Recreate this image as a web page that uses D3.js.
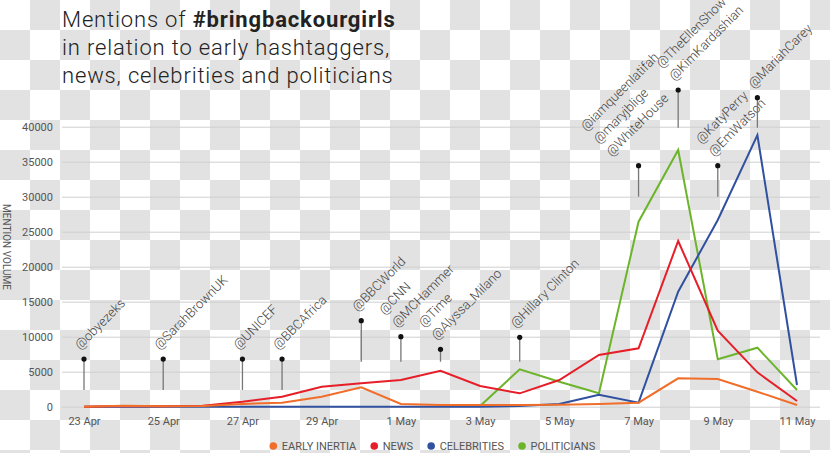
<!DOCTYPE html>
<html><head><meta charset="utf-8">
<script src="https://cdn.jsdelivr.net/npm/d3@7"></script>
<style>
html,body{margin:0;padding:0;background:#fff;}
svg{display:block;font-family:Roboto,"Noto Sans",sans-serif;}
</style></head><body>
<svg id="chart" width="830" height="453"></svg>
<script>
// ---------------- DATA ----------------
const dates = ["2014-04-23","2014-04-24","2014-04-25","2014-04-26","2014-04-27","2014-04-28","2014-04-29","2014-04-30",
  "2014-05-01","2014-05-02","2014-05-03","2014-05-04","2014-05-05","2014-05-06","2014-05-07","2014-05-08",
  "2014-05-09","2014-05-10","2014-05-11"];
const seriesNames = ["EARLY INERTIA","NEWS","CELEBRITIES","POLITICIANS"];
const earlyInertia = [0,150,50,100,390,570,1430,2770,390,250,250,250,290,390,570,4060,3960,2140,240];
const news         = [0,100,50,150,700,1430,2860,3340,3810,5140,2960,1910,3810,7390,8340,23670,10860,4910,810];
const celebrities  = [0,0,0,0,0,0,0,0,0,0,0,100,390,1720,570,16430,26670,38810,3100];
const politicians  = [null,null,null,null,null,null,null,null,null,null,100,5340,3570,1910,26430,36670,6770,8430,2390];
const xTickDates = ["2014-04-23","2014-04-25","2014-04-27","2014-04-29","2014-05-01","2014-05-03","2014-05-05","2014-05-07","2014-05-09","2014-05-11"];
const xTickLabels = ["23 Apr","25 Apr","27 Apr","29 Apr","1 May","3 May","5 May","7 May","9 May","11 May"];
const yTicks = [0,5000,10000,15000,20000,25000,30000,35000,40000];
const pinDates = ["2014-04-23","2014-04-25","2014-04-27","2014-04-28","2014-04-30","2014-05-01","2014-05-02","2014-05-04","2014-05-07","2014-05-08","2014-05-09","2014-05-10"];
const pinTop    = [6800,6800,6800,6800,12290,10000,8200,9910,34430,45240,34430,44140];
const pinBottom = [2400,2400,2400,2400,6430,6430,6430,6430,30000,39860,30000,39860];
const pinLabels = [["@obyezeks"],["@SarahBrownUK"],["@UNICEF"],["@BBCAfrica"],["@BBCWorld"],["@CNN","@MCHammer"],
  ["@Time","@Alyssa_Milano"],["@Hillary Clinton"],["@iamqueenlatifah","@maryjblige","@WhiteHouse"],
  ["@TheEllenShow","@KimKardashian"],["@KatyPerry","@EmWatson"],["@MariahCarey"]];

// ---------------- LAYOUT / STYLE ----------------
const W = 830, H = 453;
const colors = ["#f06e2a","#e61e28","#3050a0","#6cb42a"];
const labelNudge = {"2014-05-07": -23};
const parse = d3.timeParse("%Y-%m-%d");
const svg = d3.select("#chart");

// checkerboard background
const defs = svg.append("defs");
const pat = defs.append("pattern").attr("id","checker").attr("width",60).attr("height",60).attr("patternUnits","userSpaceOnUse");
pat.append("rect").attr("width",60).attr("height",60).attr("fill","#ffffff");
pat.append("rect").attr("x",30).attr("y",0).attr("width",30).attr("height",30).attr("fill","#e2e2e2");
pat.append("rect").attr("x",0).attr("y",30).attr("width",30).attr("height",30).attr("fill","#e2e2e2");
svg.append("rect").attr("width",W).attr("height",H).attr("fill","url(#checker)");

const x = d3.scaleTime().domain([parse(dates[0]), parse(dates[dates.length-1])]).range([84, 797]);
const y = d3.scaleLinear().domain([0, 40000]).range([406.7, 126.7]);

// Y axis with gridlines
const yAxis = d3.axisLeft(y).tickValues(yTicks).tickSize(-(820-62)).tickPadding(9).tickFormat(d3.format("d"));
const gy = svg.append("g").attr("transform","translate(62,0)").call(yAxis);
gy.select(".domain").remove();
gy.selectAll(".tick line").attr("stroke","#cfcfcf").attr("stroke-width",1);
gy.selectAll(".tick text").attr("fill","#555").attr("font-size",11).attr("font-family","Roboto,sans-serif");

// X axis
const xAxis = d3.axisBottom(x).tickValues(xTickDates.map(parse)).tickSize(0).tickPadding(10)
  .tickFormat((d,i) => xTickLabels[i]);
const gx = svg.append("g").attr("transform","translate(0,407)").call(xAxis);
gx.select(".domain").remove();
gx.selectAll(".tick text").attr("fill","#555").attr("font-size",11).attr("font-family","Roboto,sans-serif");

// Y axis title
svg.append("text").attr("transform","translate(3,247) rotate(90)").attr("text-anchor","middle")
  .attr("font-size",10).attr("fill","#555").text("MENTION VOLUME");

// Lines (drawn in reverse order so early inertia is on top)
const allSeries = [earlyInertia, news, celebrities, politicians];
const line = d3.line().defined(d => d.v !== null).x(d => x(d.date)).y(d => y(d.v));
[3,2,1,0].forEach(si => {
  const pts = dates.map((d,i) => ({date: parse(d), v: allSeries[si][i]}));
  svg.append("path").datum(pts).attr("d", line).attr("fill","none")
    .attr("stroke", colors[si]).attr("stroke-width",2).attr("stroke-linejoin","miter");
});

// Pins with labels
const pins = svg.append("g");
pinDates.forEach((pd,i) => {
  const px = x(parse(pd)), pt = y(pinTop[i]), pb = y(pinBottom[i]);
  pins.append("line").attr("x1",px).attr("x2",px).attr("y1",pt).attr("y2",pb)
    .attr("stroke","#777").attr("stroke-width",1.3);
  pins.append("circle").attr("cx",px).attr("cy",pt).attr("r",2.6).attr("fill","#111");
  const nud = labelNudge[pd] || 0;
  const lines = pinLabels[i];
  const t = pins.append("text").attr("transform",`translate(${px-4+nud},${pt-9}) rotate(-45)`)
    .attr("font-size",13).attr("font-weight",300).attr("fill","#444");
  lines.forEach((s,j) => {
    t.append("tspan").attr("x",0).attr("y",(j-(lines.length-1))*18).text(s);
  });
});

// Title
const titleStyle = sel => sel.attr("x",62).attr("font-size",22).attr("font-weight",300)
  .attr("letter-spacing","0.85px").attr("fill","#222");
const title = svg.append("text").call(titleStyle).attr("y",27);
title.append("tspan").text("Mentions of ");
title.append("tspan").attr("font-weight",700).text("#bringbackourgirls");
svg.append("text").call(titleStyle).attr("y",55).text("in relation to early hashtaggers,");
svg.append("text").call(titleStyle).attr("y",83).text("news, celebrities and politicians");

// Legend
const lg = svg.append("g");
let lx = 273.3;
seriesNames.forEach((n,i) => {
  lg.append("circle").attr("cx",lx).attr("cy",446).attr("r",3.8).attr("fill",colors[i]);
  const tt = lg.append("text").attr("x",lx+8.5).attr("y",450).attr("font-size",11).attr("fill","#555").text(n);
  lx += 8.5 + tt.node().getComputedTextLength() + 18;
});
</script>
</body></html>
